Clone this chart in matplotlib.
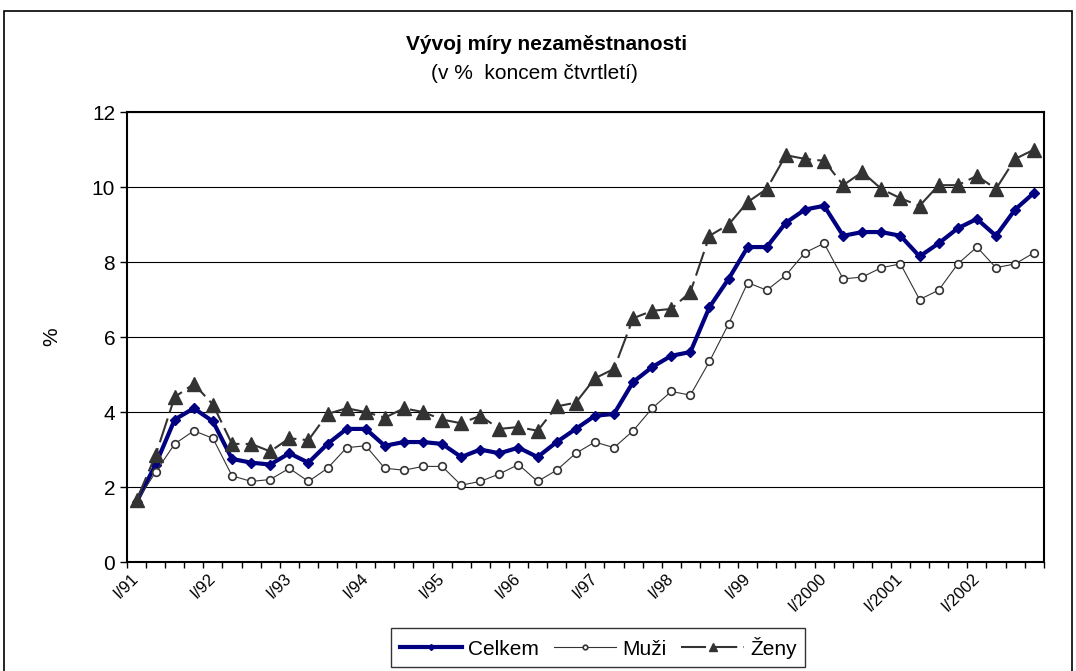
import matplotlib
matplotlib.use('Agg')
import matplotlib.pyplot as plt
from matplotlib.patches import Rectangle
import numpy as np

plt.rcParams['font.family'] = ['Liberation Sans', 'DejaVu Sans']

# quarterly data I/91 .. IV/2002
years = ['91', '92', '93', '94', '95', '96', '97', '98', '99', '2000', '2001', '2002']
tick_labels = ['I/' + y for y in years]

celkem = [1.6, 2.6, 3.8, 4.1, 3.75, 2.75, 2.65, 2.6, 2.9, 2.65, 3.15, 3.55,
          3.55, 3.1, 3.2, 3.2, 3.15, 2.8, 3.0, 2.9, 3.05, 2.8, 3.2, 3.55,
          3.9, 3.95, 4.8, 5.2, 5.5, 5.6, 6.8, 7.55, 8.4, 8.4, 9.05, 9.4,
          9.5, 8.7, 8.8, 8.8, 8.7, 8.15, 8.5, 8.9, 9.15, 8.7, 9.4, 9.85]
muzi = [1.6, 2.4, 3.15, 3.5, 3.3, 2.3, 2.15, 2.2, 2.5, 2.15, 2.5, 3.05,
        3.1, 2.5, 2.45, 2.55, 2.55, 2.05, 2.15, 2.35, 2.6, 2.15, 2.45, 2.9,
        3.2, 3.05, 3.5, 4.1, 4.55, 4.45, 5.35, 6.35, 7.45, 7.25, 7.65, 8.25,
        8.5, 7.55, 7.6, 7.85, 7.95, 7.0, 7.25, 7.95, 8.4, 7.85, 7.95, 8.25]
zeny = [1.65, 2.85, 4.4, 4.75, 4.2, 3.15, 3.15, 2.95, 3.3, 3.25, 3.95, 4.1,
        4.0, 3.85, 4.1, 4.0, 3.8, 3.7, 3.9, 3.55, 3.6, 3.5, 4.15, 4.25,
        4.9, 5.15, 6.5, 6.7, 6.75, 7.2, 8.7, 9.0, 9.6, 9.95, 10.85, 10.75,
        10.7, 10.05, 10.4, 9.95, 9.7, 9.5, 10.05, 10.05, 10.3, 9.95, 10.75, 11.0]

x = np.arange(len(celkem))

fig = plt.figure(figsize=(10.76, 6.71), dpi=100)
ax = fig.add_axes([0.118, 0.1624, 0.852, 0.6706])

# outer frame of the chart
fig.patches.append(Rectangle((0.004, -0.05), 0.992, 1.034, transform=fig.transFigure,
                             fill=False, edgecolor='black', linewidth=1.2))

ax.plot(x, celkem, color='#000080', lw=3, marker='D', ms=5, label='Celkem', zorder=3)
ax.plot(x, muzi, color='#333333', lw=0.8, marker='o', ms=5.5, mfc='white',
        mec='#333333', mew=1.2, label='Muži', zorder=4)
ax.plot(x, zeny, color='#333333', lw=1.5, dashes=(12, 3), marker='^', ms=10,
        mfc='#333333', mec='#333333', label='Ženy', zorder=5)

ax.set_ylim(0, 12)
ax.set_yticks(range(0, 13, 2))
ax.set_xlim(-0.5, len(celkem) - 0.5)
ax.yaxis.grid(True, color='black', lw=0.8)
ax.set_axisbelow(True)
ax.tick_params(axis='y', labelsize=15, length=5, width=1, direction='out')

ax.set_xticks(x[::4])
ax.set_xticklabels(tick_labels, rotation=45, ha='right', va='center',
                   rotation_mode='anchor', fontsize=12)
ax.tick_params(axis='x', length=0, pad=10)
ax.set_xticks(np.arange(-0.5, len(celkem), 1), minor=True)
ax.tick_params(axis='x', which='minor', length=4, width=1, direction='out')

for s in ax.spines.values():
    s.set_linewidth(1.5)
    s.set_color('black')

ax.set_ylabel('%', fontsize=15, labelpad=22)

fig.text(0.508, 0.933, 'Vývoj míry nezaměstnanosti', ha='center', va='center',
         fontsize=15, fontweight='bold')
fig.text(0.497, 0.891, '(v %  koncem čtvrtletí)', ha='center', va='center', fontsize=15)

leg = fig.legend(loc='center', bbox_to_anchor=(0.556, 0.035), ncol=3, fontsize=15,
                 frameon=True, fancybox=False, edgecolor='black', handlelength=3.0,
                 columnspacing=0.7, handletextpad=0.3, borderpad=0.4, markerscale=0.6)
leg.get_frame().set_linewidth(1)

fig.savefig('out.png', dpi=100)
